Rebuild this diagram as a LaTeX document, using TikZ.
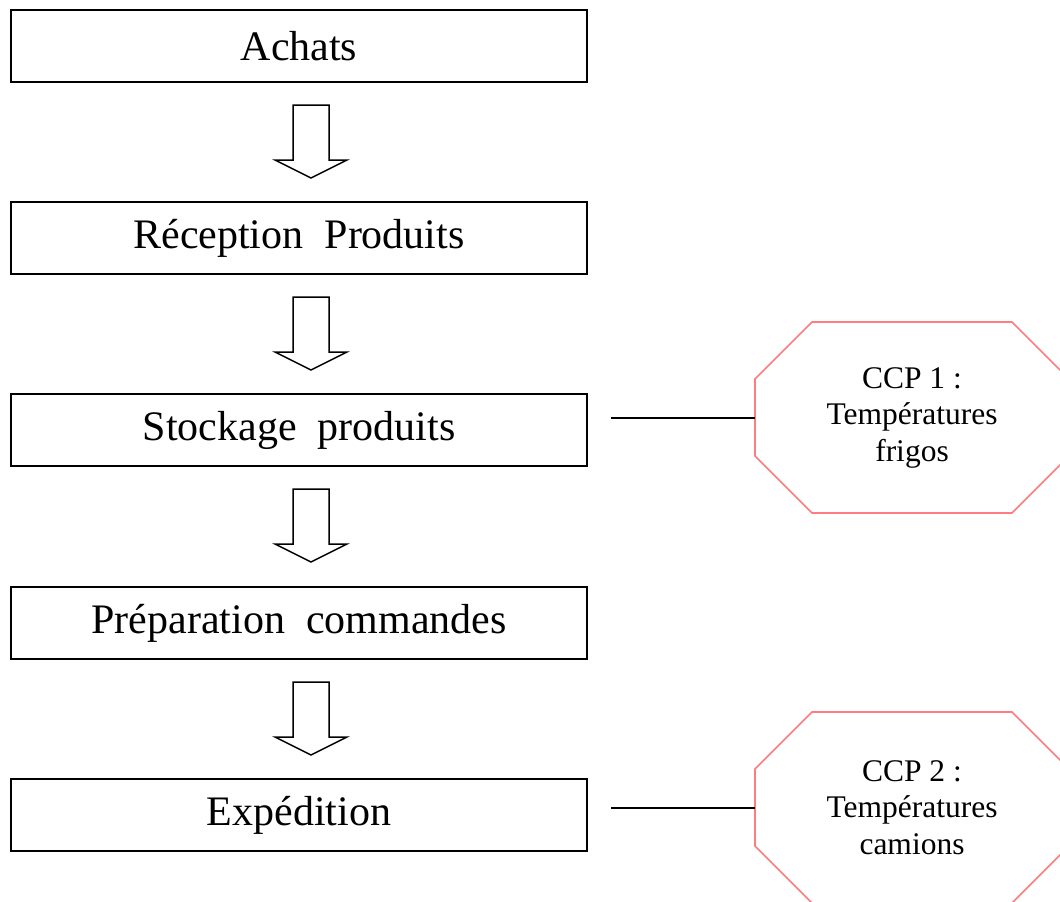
\documentclass[tikz,border=0pt]{standalone}
\usepackage{fontspec}
\setmainfont{Liberation Serif}
\usetikzlibrary{calc}
\definecolor{ccpred}{RGB}{255,124,128}
% octagon drawn round an (invisible) ccp node, corners cut at 45 degrees
\newcommand{\ccpoctagon}[1]{%
  \draw[ccpedge] ($(#1.north west)+(57,0)$) -- ($(#1.north east)+(-57,0)$)
    -- ($(#1.north east)+(0,57)$) -- ($(#1.south east)+(0,-57)$)
    -- ($(#1.south east)+(-57,0)$) -- ($(#1.south west)+(57,0)$)
    -- ($(#1.south west)+(0,-57)$) -- ($(#1.north west)+(0,57)$) -- cycle;}

\begin{document}
\begin{tikzpicture}[x=1pt, y=-1pt,
    stepbox/.style={draw, line width=2pt, minimum width=576pt, minimum height=72pt,
      inner sep=0pt, outer sep=0pt, font=\fontsize{42}{50}\selectfont},
    ccpbox/.style={minimum width=314pt, minimum height=191pt, inner sep=0pt,
      outer sep=0pt, align=center, font=\fontsize{31.5}{36.5}\selectfont},
    ccpedge/.style={draw=ccpred, line width=1.6pt, line join=miter},
    flowarrow/.style={draw, line width=1.5pt, line join=miter},
    link/.style={draw, line width=2pt}]
  \useasboundingbox (0,0) rectangle (1060,902);

  % process steps
  \node[stepbox] (achats) at (299,46) {Achats};
  \node[stepbox] (reception) at (299,238) {Réception\ \ Produits};
  \node[stepbox] (stockage) at (299,430) {Stockage\ \ produits};
  \node[stepbox] (preparation) at (299,623) {Préparation\ \ commandes};
  \node[stepbox] (expedition) at (299,815) {Expédition};

  % hollow arrows between the steps
  \foreach \a in {achats,reception,stockage,preparation} {
    \draw[flowarrow] ($(\a.south)+(12,0)$) ++(-18,23) -- ++(36,0) -- ++(0,55)
      -- ++(18,0) -- ++(-36,18) -- ++(-36,-18) -- ++(18,0) -- cycle;
  }

  % critical control points
  \node[ccpbox] (ccp1) at (912,417.5) {CCP 1 :\\Températures\\frigos};
  \ccpoctagon{ccp1}
  \node[ccpbox] (ccp2) at (912,807.5) {CCP 2 :\\Températures\\camions};
  \ccpoctagon{ccp2}

  \coordinate (link1) at (611,417.5);
  \coordinate (link2) at (611,807.5);
  \draw[link] (link1) -- (ccp1.west);
  \draw[link] (link2) -- (ccp2.west);
\end{tikzpicture}
\end{document}
